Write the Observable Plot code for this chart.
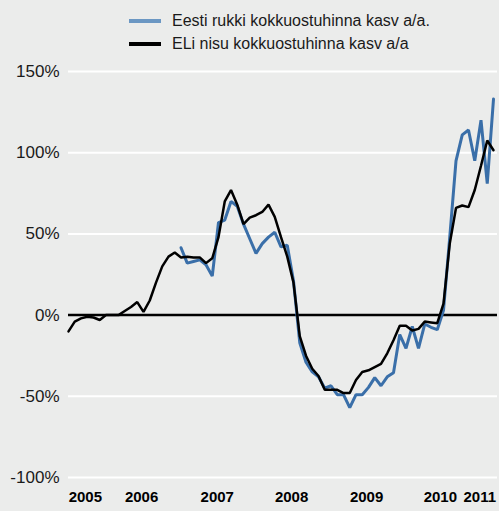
<!DOCTYPE html>
<html>
<head>
<meta charset="utf-8">
<script src="https://cdn.jsdelivr.net/npm/d3@7"></script>
<script src="https://cdn.jsdelivr.net/npm/@observablehq/plot@0.6"></script>
<style>
  html, body { margin: 0; padding: 0; background: #ebeceb; }
  body { width: 499px; height: 511px; overflow: hidden; font-family: "Liberation Sans", Arial, Helvetica, sans-serif; }
  #legend { position: relative; height: 58px; }
  .row { position: absolute; left: 129px; display: flex; align-items: center; font-size: 16px; color: #1a1a1a; white-space: nowrap; }
  .sw { width: 32px; height: 4px; margin-right: 11px; }
  #chart svg { display: block; }
</style>
</head>
<body>
<div id="legend"></div>
<div id="chart"></div>
<script>
// Monthly observations, Jul 2005 – Mar 2011 (index 0 … 68)
const startYear = 2005, startMonth = 7, nMonths = 69;
const months = [];
for (let k = 0; k < nMonths; k++) {
  const m = startMonth - 1 + k;
  months.push(`${startYear + Math.floor(m / 12)}-${String((m % 12) + 1).padStart(2, "0")}`);
}

// ELi nisu kokkuostuhinna kasv a/a (%)
const wheat = [
  -10, -4, -2, -1, -1.5, -3, 0, 0, 0, 2.5,
  5, 8, 2, 9, 20, 30, 36, 38.5, 35.5, 36,
  35.5, 35.5, 32, 35, 48, 70, 77, 68, 56, 60,
  61.5, 63.5, 68, 60.5, 48, 36, 20, -13, -25, -33,
  -37.5, -46, -46, -46, -48, -48, -40, -35, -34, -32,
  -30, -23.5, -15.5, -6.5, -6.5, -9.5, -8.5, -4, -4.5, -5,
  7, 44, 66, 67.5, 66.5, 77, 92, 107.5, 101.5
];

// Eesti rukki kokkuostuhinna kasv a/a (%)
const rye = [
  null, null, null, null, null, null, null, null, null, null,
  null, null, null, null, null, null, null, null,
  41.5, 32, 33, 34, 31, 24, 57, 58.5, 70, 67,
  56, 47, 38, 44, 48, 51, 42, 43, 21, -17,
  -29, -35, -38, -45, -43.5, -49, -49, -57, -49, -49,
  -44.5, -38.5, -43.5, -38, -35.5, -12, -20.5, -7, -20.5, -5.5,
  -7.5, -9, 3, 48, 95, 111, 114, 95, 120, 81, 133
];

const seriesNames = ["Eesti rukki kokkuostuhinna kasv a/a.", "ELi nisu kokkuostuhinna kasv a/a"];
const seriesColors = ["#3a6fa9", "#000000"];
const swatchColors = ["#6b97c3", "#000000"];

const yTicks = [-100, -50, 0, 50, 100, 150];
const yearLabels = ["2005", "2006", "2007", "2008", "2009", "2010", "2011"];
const yearTickPos = [2.7, 11.7, 23.8, 35.7, 47.7, 59.5, 65.8];

const ryeData = months.map((m, i) => ({i, month: m, v: rye[i]}));
const wheatData = months.map((m, i) => ({i, month: m, v: wheat[i]}));

// Legend
const legend = document.getElementById("legend");
seriesNames.forEach((name, k) => {
  const row = document.createElement("div");
  row.className = "row";
  row.style.top = (k === 0 ? 11 : 34) + "px";
  row.style.height = "20px";
  const sw = document.createElement("span");
  sw.className = "sw";
  sw.style.background = swatchColors[k];
  const t = document.createElement("span");
  t.textContent = name;
  row.appendChild(sw);
  row.appendChild(t);
  legend.appendChild(row);
});

const chart = Plot.plot({
  width: 499,
  height: 453,
  marginLeft: 68,
  marginRight: 2,
  marginTop: 13,
  marginBottom: 34,
  style: {background: "#ebeceb", fontFamily: "'Liberation Sans', Arial, Helvetica, sans-serif", color: "#1a1a1a"},
  x: {domain: [0, 68.64], axis: null},
  y: {domain: [-100, 150], axis: null},
  marks: [
    Plot.gridY({ticks: yTicks, stroke: "#ffffff", strokeOpacity: 1, strokeWidth: 2}),
    Plot.axisY({ticks: yTicks, tickFormat: d => d + "%", tickSize: 0, tickPadding: 9, fontSize: 17, fill: "#1a1a1a", label: null}),
    Plot.axisX({ticks: yearTickPos, tickFormat: d => yearLabels[yearTickPos.indexOf(d)], tickSize: 0, tickPadding: 14, fontSize: 15, fontWeight: "bold", fill: "#000", label: null}),
    Plot.ruleY([0], {stroke: "#000", strokeWidth: 2.5}),
    Plot.line(ryeData, {x: "i", y: "v", stroke: seriesColors[0], strokeWidth: 3, strokeLinejoin: "miter"}),
    Plot.line(wheatData, {x: "i", y: "v", stroke: seriesColors[1], strokeWidth: 2.5, strokeLinejoin: "miter"})
  ]
});
document.getElementById("chart").appendChild(chart);
</script>
</body>
</html>
